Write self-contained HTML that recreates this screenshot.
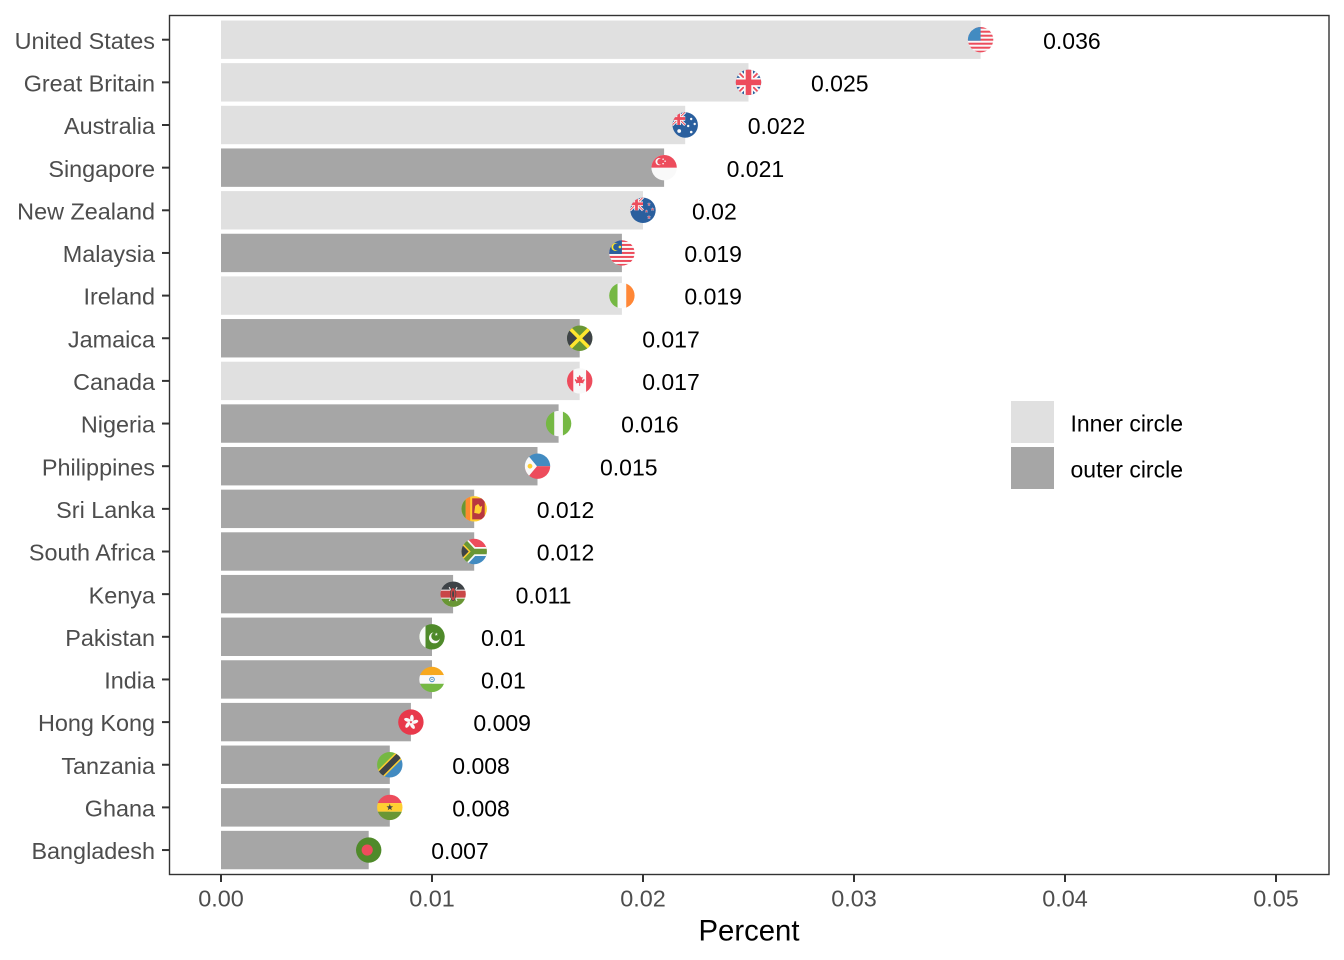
<!DOCTYPE html>
<html>
<head>
<meta charset="utf-8">
<style>
html,body{margin:0;padding:0;background:#fff;}
svg{display:block;}
text{font-family:"Liberation Sans",Arial,sans-serif;}
</style>
</head>
<body>
<svg width="1344" height="960" viewBox="0 0 1344 960" xmlns="http://www.w3.org/2000/svg">
<defs>
  <clipPath id="fc"><circle cx="0" cy="0" r="12.7"/></clipPath>
  <polygon id="star" points="0,-3.5 0.823,-1.133 3.329,-1.082 1.331,0.433 2.057,2.832 0,1.4 -2.057,2.832 -1.331,0.433 -3.329,-1.082 -0.823,-1.133"/>
  <g id="uj">
    <rect x="-13" y="-13" width="26" height="26" fill="#2A5F9E"/>
    <path d="M-13,-13L13,13M-13,13L13,-13" stroke="#F9F9F9" stroke-width="5.5"/>
    <path d="M-13,-13L13,13M-13,13L13,-13" stroke="#ED4C5C" stroke-width="1.8"/>
    <rect x="-4.5" y="-13" width="9" height="26" fill="#F9F9F9"/>
    <rect x="-13" y="-4.5" width="26" height="9" fill="#F9F9F9"/>
    <rect x="-2.8" y="-13" width="5.6" height="26" fill="#ED4C5C"/>
    <rect x="-13" y="-2.8" width="26" height="5.6" fill="#ED4C5C"/>
  </g>
</defs>
<rect x="0" y="0" width="1344" height="960" fill="#ffffff"/>

<!-- bars -->
<g>
<rect x="221" y="20.5" width="759.6" height="38.4" fill="#E0E0E0"/>
<rect x="221" y="63.15" width="527.5" height="38.4" fill="#E0E0E0"/>
<rect x="221" y="105.8" width="464.2" height="38.4" fill="#E0E0E0"/>
<rect x="221" y="148.45" width="443.1" height="38.4" fill="#A6A6A6"/>
<rect x="221" y="191.1" width="422" height="38.4" fill="#E0E0E0"/>
<rect x="221" y="233.75" width="400.9" height="38.4" fill="#A6A6A6"/>
<rect x="221" y="276.4" width="400.9" height="38.4" fill="#E0E0E0"/>
<rect x="221" y="319.05" width="358.7" height="38.4" fill="#A6A6A6"/>
<rect x="221" y="361.7" width="358.7" height="38.4" fill="#E0E0E0"/>
<rect x="221" y="404.35" width="337.6" height="38.4" fill="#A6A6A6"/>
<rect x="221" y="447" width="316.5" height="38.4" fill="#A6A6A6"/>
<rect x="221" y="489.65" width="253.2" height="38.4" fill="#A6A6A6"/>
<rect x="221" y="532.3" width="253.2" height="38.4" fill="#A6A6A6"/>
<rect x="221" y="574.95" width="232.1" height="38.4" fill="#A6A6A6"/>
<rect x="221" y="617.6" width="211" height="38.4" fill="#A6A6A6"/>
<rect x="221" y="660.25" width="211" height="38.4" fill="#A6A6A6"/>
<rect x="221" y="702.9" width="189.9" height="38.4" fill="#A6A6A6"/>
<rect x="221" y="745.55" width="168.8" height="38.4" fill="#A6A6A6"/>
<rect x="221" y="788.2" width="168.8" height="38.4" fill="#A6A6A6"/>
<rect x="221" y="830.85" width="147.7" height="38.4" fill="#A6A6A6"/>
</g>

<!-- flags -->
<g transform="translate(980.6,39.7)"><g clip-path="url(#fc)">
  <rect x="-13" y="-13" width="26" height="26" fill="#F9F9F9"/>
  <rect x="-13" y="-13" width="26" height="2" fill="#ED4C5C"/>
  <rect x="-13" y="-9" width="26" height="2" fill="#ED4C5C"/>
  <rect x="-13" y="-5" width="26" height="2" fill="#ED4C5C"/>
  <rect x="-13" y="-1" width="26" height="2" fill="#ED4C5C"/>
  <rect x="-13" y="3" width="26" height="2" fill="#ED4C5C"/>
  <rect x="-13" y="7" width="26" height="2" fill="#ED4C5C"/>
  <rect x="-13" y="11" width="26" height="2" fill="#ED4C5C"/>
  <rect x="-13" y="-13" width="13" height="14" fill="#428BC1"/>
</g></g>
<g transform="translate(748.5,82.35)"><g clip-path="url(#fc)">
  <use href="#uj"/>
</g></g>
<g transform="translate(685.2,125)"><g clip-path="url(#fc)">
  <rect x="-13" y="-13" width="26" height="26" fill="#2A5F9E"/>
  <g transform="translate(-6.5,-6.5) scale(0.5)"><use href="#uj"/></g>
  <circle cx="-6" cy="6" r="1.9" fill="#F9F9F9"/>
  <circle cx="6" cy="-6" r="1.2" fill="#F9F9F9"/>
  <circle cx="9.5" cy="-1" r="1.2" fill="#F9F9F9"/>
  <circle cx="3" cy="1" r="1.2" fill="#F9F9F9"/>
  <circle cx="6" cy="7" r="1.3" fill="#F9F9F9"/>
</g></g>
<g transform="translate(664.1,167.65)"><g clip-path="url(#fc)">
  <rect x="-13" y="-13" width="26" height="26" fill="#F9F9F9"/>
  <rect x="-13" y="-13" width="26" height="13" fill="#ED4C5C"/>
  <circle cx="-5" cy="-6" r="3.6" fill="#F9F9F9"/>
  <circle cx="-3.7" cy="-6" r="3.1" fill="#ED4C5C"/>
  <circle cx="-1" cy="-8.5" r="0.8" fill="#F9F9F9"/>
  <circle cx="1" cy="-6.5" r="0.8" fill="#F9F9F9"/>
  <circle cx="-1" cy="-4" r="0.8" fill="#F9F9F9"/>
</g></g>
<g transform="translate(643,210.3)"><g clip-path="url(#fc)">
  <rect x="-13" y="-13" width="26" height="26" fill="#2A5F9E"/>
  <g transform="translate(-6.5,-6.5) scale(0.5)"><use href="#uj"/></g>
  <g fill="#ED4C5C" stroke="#F9F9F9" stroke-width="0.5">
    <use href="#star" transform="translate(6,-6) scale(0.5)"/>
    <use href="#star" transform="translate(9.5,-1) scale(0.5)"/>
    <use href="#star" transform="translate(3.5,1) scale(0.45)"/>
    <use href="#star" transform="translate(6,7) scale(0.55)"/>
  </g>
</g></g>
<g transform="translate(621.9,252.95)"><g clip-path="url(#fc)">
  <rect x="-13" y="-13" width="26" height="26" fill="#F9F9F9"/>
  <rect x="-13" y="-13" width="26" height="2" fill="#ED4C5C"/>
  <rect x="-13" y="-9" width="26" height="2" fill="#ED4C5C"/>
  <rect x="-13" y="-5" width="26" height="2" fill="#ED4C5C"/>
  <rect x="-13" y="-1" width="26" height="2" fill="#ED4C5C"/>
  <rect x="-13" y="3" width="26" height="2" fill="#ED4C5C"/>
  <rect x="-13" y="7" width="26" height="2" fill="#ED4C5C"/>
  <rect x="-13" y="11" width="26" height="2" fill="#ED4C5C"/>
  <rect x="-13" y="-13" width="13" height="14" fill="#2A5F9E"/>
  <circle cx="-6.5" cy="-6" r="4" fill="#FFE62E"/>
  <circle cx="-5.3" cy="-6" r="3.4" fill="#2A5F9E"/>
  <circle cx="-2" cy="-6" r="1.3" fill="#FFE62E"/>
</g></g>
<g transform="translate(621.9,295.6)"><g clip-path="url(#fc)">
  <rect x="-13" y="-13" width="8.67" height="26" fill="#75B843"/>
  <rect x="-4.33" y="-13" width="8.67" height="26" fill="#F9F9F9"/>
  <rect x="4.33" y="-13" width="8.67" height="26" fill="#FF8736"/>
</g></g>
<g transform="translate(579.7,338.25)"><g clip-path="url(#fc)">
  <rect x="-13" y="-13" width="26" height="26" fill="#699635"/>
  <polygon points="-13,-13 0,0 -13,13" fill="#3E4347"/>
  <polygon points="13,-13 0,0 13,13" fill="#3E4347"/>
  <path d="M-13,-13L13,13M-13,13L13,-13" stroke="#FFE62E" stroke-width="3.6"/>
</g></g>
<g transform="translate(579.7,380.9)"><g clip-path="url(#fc)">
  <rect x="-13" y="-13" width="26" height="26" fill="#F9F9F9"/>
  <rect x="-13" y="-13" width="6.6" height="26" fill="#ED4C5C"/>
  <rect x="6.4" y="-13" width="6.6" height="26" fill="#ED4C5C"/>
  <polygon points="0,-6 1.3,-3.5 3,-4 2.3,-0.5 4.5,-2 5,-0.8 3.5,1.5 4,2.5 0.5,2 0.5,5 -0.5,5 -0.5,2 -4,2.5 -3.5,1.5 -5,-0.8 -4.5,-2 -2.3,-0.5 -3,-4 -1.3,-3.5" fill="#ED4C5C"/>
</g></g>
<g transform="translate(558.6,423.55)"><g clip-path="url(#fc)">
  <rect x="-13" y="-13" width="8.67" height="26" fill="#75B843"/>
  <rect x="-4.33" y="-13" width="8.67" height="26" fill="#F9F9F9"/>
  <rect x="4.33" y="-13" width="8.67" height="26" fill="#75B843"/>
</g></g>
<g transform="translate(537.5,466.2)"><g clip-path="url(#fc)">
  <rect x="-13" y="-13" width="26" height="13" fill="#428BC1"/>
  <rect x="-13" y="0" width="26" height="13" fill="#ED4C5C"/>
  <polygon points="-13,-15 -0.5,0 -13,15" fill="#F9F9F9"/>
  <circle cx="-7.5" cy="0" r="2.4" fill="#FFCE31"/>
</g></g>
<g transform="translate(474.2,508.85)"><g clip-path="url(#fc)">
  <rect x="-13" y="-13" width="26" height="26" fill="#FFCE31"/>
  <rect x="-13" y="-13" width="4.5" height="26" fill="#699635"/>
  <rect x="-8.5" y="-13" width="4.5" height="26" fill="#FF8A2E"/>
  <rect x="-2" y="-10.5" width="12.5" height="21" fill="#B8373F"/>
  <path d="M0,4 L1,-3 L4,-5 L6,-2 L8,-3 L7,3 L5,5 Z" fill="#FFCE31"/>
</g></g>
<g transform="translate(474.2,551.5)"><g clip-path="url(#fc)">
  <rect x="-13" y="-13" width="26" height="13" fill="#ED4C5C"/>
  <rect x="-13" y="0" width="26" height="13" fill="#428BC1"/>
  <path d="M-14,-14L-1,0L-14,14M-1,0L14,0" stroke="#F9F9F9" stroke-width="9" fill="none"/>
  <path d="M-14,-14L-1,0L-14,14M-1,0L14,0" stroke="#699635" stroke-width="5.5" fill="none"/>
  <polygon points="-13,-10 -3.5,0 -13,10" fill="#FFCE31"/>
  <polygon points="-13,-7.5 -5.5,0 -13,7.5" fill="#3E4347"/>
</g></g>
<g transform="translate(453.1,594.15)"><g clip-path="url(#fc)">
  <rect x="-13" y="-13" width="26" height="26" fill="#F9F9F9"/>
  <rect x="-13" y="-13" width="26" height="8.5" fill="#3E4347"/>
  <rect x="-13" y="-3.5" width="26" height="7" fill="#C94747"/>
  <rect x="-13" y="4.5" width="26" height="8.5" fill="#699635"/>
  <path d="M-4,-7L4,7M4,-7L-4,7" stroke="#F9F9F9" stroke-width="0.9"/>
  <ellipse cx="0" cy="0" rx="2.8" ry="6.5" fill="#C94747" stroke="#3E4347" stroke-width="0.6"/>
  <ellipse cx="0" cy="0" rx="0.9" ry="3.5" fill="#3E4347"/>
</g></g>
<g transform="translate(432,636.8)"><g clip-path="url(#fc)">
  <rect x="-13" y="-13" width="26" height="26" fill="#4F8A2A"/>
  <rect x="-13" y="-13" width="6.5" height="26" fill="#F9F9F9"/>
  <circle cx="2.5" cy="1" r="5.5" fill="#F9F9F9"/>
  <circle cx="4" cy="-0.6" r="4.7" fill="#4F8A2A"/>
  <use href="#star" transform="translate(4.3,-2.5) scale(0.5)" fill="#F9F9F9"/>
</g></g>
<g transform="translate(432,679.45)"><g clip-path="url(#fc)">
  <rect x="-13" y="-13" width="26" height="8.67" fill="#F7A81E"/>
  <rect x="-13" y="-4.33" width="26" height="8.67" fill="#F9F9F9"/>
  <rect x="-13" y="4.33" width="26" height="8.67" fill="#75B843"/>
  <circle cx="0" cy="0" r="2.3" fill="none" stroke="#428BC1" stroke-width="0.9"/>
  <circle cx="0" cy="0" r="0.7" fill="#428BC1"/>
</g></g>
<g transform="translate(410.9,722.1)"><g clip-path="url(#fc)">
  <rect x="-13" y="-13" width="26" height="26" fill="#E8394B"/>
  <g fill="#F9F9F9">
    <ellipse cx="1" cy="-4" rx="1.8" ry="3.4"/>
    <ellipse cx="1" cy="-4" rx="1.8" ry="3.4" transform="rotate(72)"/>
    <ellipse cx="1" cy="-4" rx="1.8" ry="3.4" transform="rotate(144)"/>
    <ellipse cx="1" cy="-4" rx="1.8" ry="3.4" transform="rotate(216)"/>
    <ellipse cx="1" cy="-4" rx="1.8" ry="3.4" transform="rotate(288)"/>
  </g>
</g></g>
<g transform="translate(389.8,764.75)"><g clip-path="url(#fc)">
  <polygon points="-13,-13 13,-13 -13,13" fill="#75B843"/>
  <polygon points="13,-13 13,13 -13,13" fill="#428BC1"/>
  <path d="M-14,14L14,-14" stroke="#FFCE31" stroke-width="9"/>
  <path d="M-14,14L14,-14" stroke="#3E4347" stroke-width="6"/>
</g></g>
<g transform="translate(389.8,807.4)"><g clip-path="url(#fc)">
  <rect x="-13" y="-13" width="26" height="8.67" fill="#ED4C5C"/>
  <rect x="-13" y="-4.33" width="26" height="8.67" fill="#FFCE31"/>
  <rect x="-13" y="4.33" width="26" height="8.67" fill="#699635"/>
  <use href="#star" fill="#3E4347"/>
</g></g>
<g transform="translate(368.7,850.05)"><g clip-path="url(#fc)">
  <rect x="-13" y="-13" width="26" height="26" fill="#4F8A2A"/>
  <circle cx="-1.5" cy="0" r="5.6" fill="#ED4C5C"/>
</g></g>

<!-- value labels -->
<g font-size="23" fill="#000000">
<text x="1043.1" y="48.8">0.036</text>
<text x="811" y="91.45">0.025</text>
<text x="747.7" y="134.1">0.022</text>
<text x="726.6" y="176.75">0.021</text>
<text x="692" y="219.4">0.02</text>
<text x="684.4" y="262.05">0.019</text>
<text x="684.4" y="304.7">0.019</text>
<text x="642.2" y="347.35">0.017</text>
<text x="642.2" y="390">0.017</text>
<text x="621.1" y="432.65">0.016</text>
<text x="600" y="475.3">0.015</text>
<text x="536.7" y="517.95">0.012</text>
<text x="536.7" y="560.6">0.012</text>
<text x="515.6" y="603.25">0.011</text>
<text x="481" y="645.9">0.01</text>
<text x="481" y="688.55">0.01</text>
<text x="473.4" y="731.2">0.009</text>
<text x="452.3" y="773.85">0.008</text>
<text x="452.3" y="816.5">0.008</text>
<text x="431.2" y="859.15">0.007</text>
</g>

<!-- panel border -->
<rect x="169.5" y="15.5" width="1159.5" height="859" fill="none" stroke="#333333" stroke-width="1.4"/>

<!-- y ticks -->
<g stroke="#333333" stroke-width="2">
<line x1="162" x2="169" y1="39.7" y2="39.7"/>
<line x1="162" x2="169" y1="82.35" y2="82.35"/>
<line x1="162" x2="169" y1="125" y2="125"/>
<line x1="162" x2="169" y1="167.65" y2="167.65"/>
<line x1="162" x2="169" y1="210.3" y2="210.3"/>
<line x1="162" x2="169" y1="252.95" y2="252.95"/>
<line x1="162" x2="169" y1="295.6" y2="295.6"/>
<line x1="162" x2="169" y1="338.25" y2="338.25"/>
<line x1="162" x2="169" y1="380.9" y2="380.9"/>
<line x1="162" x2="169" y1="423.55" y2="423.55"/>
<line x1="162" x2="169" y1="466.2" y2="466.2"/>
<line x1="162" x2="169" y1="508.85" y2="508.85"/>
<line x1="162" x2="169" y1="551.5" y2="551.5"/>
<line x1="162" x2="169" y1="594.15" y2="594.15"/>
<line x1="162" x2="169" y1="636.8" y2="636.8"/>
<line x1="162" x2="169" y1="679.45" y2="679.45"/>
<line x1="162" x2="169" y1="722.1" y2="722.1"/>
<line x1="162" x2="169" y1="764.75" y2="764.75"/>
<line x1="162" x2="169" y1="807.4" y2="807.4"/>
<line x1="162" x2="169" y1="850.05" y2="850.05"/>
</g>

<!-- x ticks -->
<g stroke="#333333" stroke-width="2">
<line x1="221" x2="221" y1="875" y2="882"/>
<line x1="432" x2="432" y1="875" y2="882"/>
<line x1="643" x2="643" y1="875" y2="882"/>
<line x1="854" x2="854" y1="875" y2="882"/>
<line x1="1065" x2="1065" y1="875" y2="882"/>
<line x1="1276" x2="1276" y1="875" y2="882"/>
</g>

<!-- y labels -->
<g font-size="23.4" fill="#4D4D4D" text-anchor="end">
<text x="155" y="48.8">United States</text>
<text x="155" y="91.45">Great Britain</text>
<text x="155" y="134.1">Australia</text>
<text x="155" y="176.75">Singapore</text>
<text x="155" y="219.4">New Zealand</text>
<text x="155" y="262.05">Malaysia</text>
<text x="155" y="304.7">Ireland</text>
<text x="155" y="347.35">Jamaica</text>
<text x="155" y="390">Canada</text>
<text x="155" y="432.65">Nigeria</text>
<text x="155" y="475.3">Philippines</text>
<text x="155" y="517.95">Sri Lanka</text>
<text x="155" y="560.6">South Africa</text>
<text x="155" y="603.25">Kenya</text>
<text x="155" y="645.9">Pakistan</text>
<text x="155" y="688.55">India</text>
<text x="155" y="731.2">Hong Kong</text>
<text x="155" y="773.85">Tanzania</text>
<text x="155" y="816.5">Ghana</text>
<text x="155" y="859.15">Bangladesh</text>
</g>

<!-- x labels -->
<g font-size="23.4" fill="#4D4D4D" text-anchor="middle">
<text x="221" y="906.5">0.00</text>
<text x="432" y="906.5">0.01</text>
<text x="643" y="906.5">0.02</text>
<text x="854" y="906.5">0.03</text>
<text x="1065" y="906.5">0.04</text>
<text x="1276" y="906.5">0.05</text>
</g>

<!-- axis title -->
<text x="749" y="940.5" font-size="29.3" fill="#000000" text-anchor="middle">Percent</text>

<!-- legend -->
<rect x="1011" y="401" width="43" height="42" fill="#E0E0E0"/>
<rect x="1011" y="447" width="43" height="42" fill="#A6A6A6"/>
<g font-size="23" fill="#000000">
<text x="1070.5" y="431.3">Inner circle</text>
<text x="1070.5" y="477.5">outer circle</text>
</g>
</svg>
</body>
</html>
